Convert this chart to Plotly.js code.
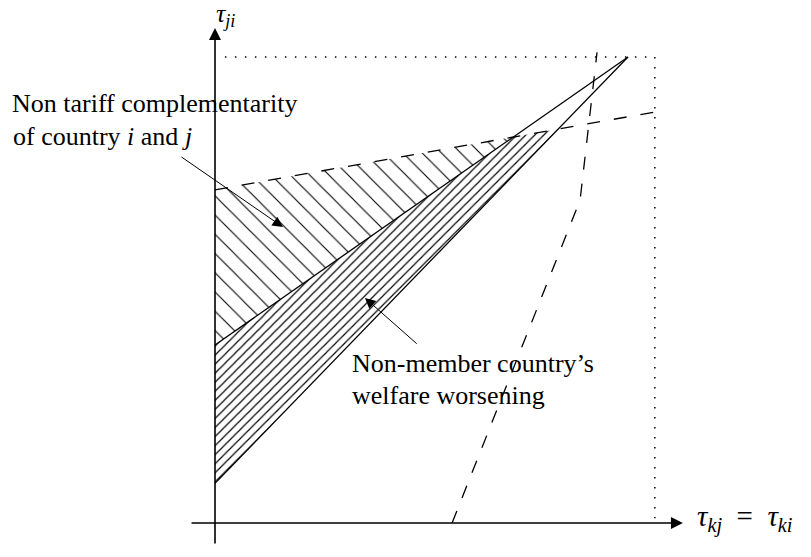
<!DOCTYPE html>
<html>
<head>
<meta charset="utf-8">
<script src="https://cdn.plot.ly/plotly-3.0.1.min.js"></script>
<style>
  html, body { margin: 0; padding: 0; background: #ffffff; }
  #chart { width: 811px; height: 557px; }
</style>
</head>
<body>
<div id="chart"></div>
<script>
// Schematic in the (τkj = τki, τji) plane, arbitrary units.
const lowerSolidX = [0, 10];
const lowerSolidY = [0.85, 10];
const upperSolidX = [0, 10];
const upperSolidY = [3.82, 10];
const dashedLineX = [0, 10.65];
const dashedLineY = [7.15, 8.82];
const dashedCurveX = [5.74, 8.84, 9.25];
const dashedCurveY = [0, 6.93, 10.1];
const dottedBoxX = [0.24, 10.65, 10.65];
const dottedBoxY = [10, 10, 0.1];

const xAxisLabel = '<i>τ</i><sub><i>kj</i></sub>\u2002=\u2002<i>τ</i><sub><i>ki</i></sub>';
const yAxisLabel = '<i>τ</i><sub><i>ji</i></sub>';
const noteComplementarity = ['Non tariff complementarity', 'of country <i>i</i> and <i>j</i>'];
const noteWelfare = ['Non-member country’s', 'welfare worsening'];

// Intersection of two straight lines, each given by two points.
function intersect(ax, ay, bx, by) {
  const ma = (ay[1] - ay[0]) / (ax[1] - ax[0]);
  const mb = (by[1] - by[0]) / (bx[1] - bx[0]);
  const ca = ay[0] - ma * ax[0];
  const cb = by[0] - mb * bx[0];
  const x = (cb - ca) / (ma - mb);
  return [x, ma * x + ca];
}

const A = intersect(upperSolidX, upperSolidY, dashedLineX, dashedLineY);
const B = intersect(lowerSolidX, lowerSolidY, dashedLineX, dashedLineY);

// Region between the dashed line and the upper solid line
const upperRegion = {
  x: [0, A[0], 0, 0],
  y: [dashedLineY[0], A[1], upperSolidY[0], dashedLineY[0]]
};
// Region between the two solid lines, capped by the dashed line
const lowerRegion = {
  x: [0, A[0], B[0], 0, 0],
  y: [upperSolidY[0], A[1], B[1], lowerSolidY[0], upperSolidY[0]]
};

const ink = '#000000';

const traces = [
  {
    x: upperRegion.x, y: upperRegion.y, mode: 'lines', fill: 'toself',
    fillcolor: 'rgba(0,0,0,0)', line: { width: 0, color: 'rgba(0,0,0,0)' },
    fillpattern: { shape: '\\', size: 13.6, solidity: 0.08, fgcolor: ink, bgcolor: 'rgba(0,0,0,0)' },
    hoverinfo: 'skip'
  },
  {
    x: lowerRegion.x, y: lowerRegion.y, mode: 'lines', fill: 'toself',
    fillcolor: 'rgba(0,0,0,0)', line: { width: 0, color: 'rgba(0,0,0,0)' },
    fillpattern: { shape: '/', size: 6.4, solidity: 0.19, fgcolor: ink, bgcolor: 'rgba(0,0,0,0)' },
    hoverinfo: 'skip'
  },
  { x: dottedBoxX, y: dottedBoxY, mode: 'lines', line: { color: ink, width: 1.5, dash: '1.5px,8.5px' } },
  { x: lowerSolidX, y: lowerSolidY, mode: 'lines', line: { color: ink, width: 1.3 } },
  { x: upperSolidX, y: upperSolidY, mode: 'lines', line: { color: ink, width: 1.3 } },
  { x: dashedLineX, y: dashedLineY, mode: 'lines', line: { color: ink, width: 1.3, dash: '13px,14px' } },
  { x: dashedCurveX, y: dashedCurveY, mode: 'lines', line: { color: ink, width: 1.3, dash: '13px,14px' } }
];

// Pixel scale of the drawing: origin sits at (215, 523) in the 811x557 canvas
const W = 811, H = 557;
const ox = 215, oy = 523, sx = 41.3, sy = 46.6;
const px = v => v / W;
const py = v => 1 - v / H;

const serif = '"Liberation Serif", "Times New Roman", serif';

function textLine(text, x, y) {
  return { x: px(x), y: py(y), xref: 'paper', yref: 'paper', xanchor: 'left', yanchor: 'middle',
           align: 'left', text: text, showarrow: false, font: { size: 26 } };
}

const layout = {
  width: W, height: H,
  margin: { l: 0, r: 0, t: 0, b: 0, pad: 0 },
  paper_bgcolor: '#ffffff', plot_bgcolor: '#ffffff',
  showlegend: false,
  xaxis: { range: [-ox / sx, (W - ox) / sx], visible: false, showgrid: false, zeroline: false, fixedrange: true },
  yaxis: { range: [-(H - oy) / sy, oy / sy], visible: false, showgrid: false, zeroline: false, fixedrange: true },
  font: { family: serif, color: ink, size: 24 },
  annotations: [
    // axes with arrow tips
    { x: 11.33, y: 0, ax: -0.605, ay: 0, xref: 'x', yref: 'y', axref: 'x', ayref: 'y',
      text: '', showarrow: true, arrowhead: 2, arrowsize: 1.5, arrowwidth: 1.6, arrowcolor: ink, standoff: 0 },
    { x: 0, y: 10.62, ax: 0, ay: -0.472, xref: 'x', yref: 'y', axref: 'x', ayref: 'y',
      text: '', showarrow: true, arrowhead: 2, arrowsize: 1.5, arrowwidth: 1.6, arrowcolor: ink, standoff: 0 },
    // pointers to the two hatched regions
    { x: 1.646, y: 6.35, ax: -0.847, ay: 7.876, xref: 'x', yref: 'y', axref: 'x', ayref: 'y',
      text: '', showarrow: true, arrowhead: 2, arrowsize: 2.1, arrowwidth: 1, arrowcolor: ink, standoff: 0 },
    { x: 3.63, y: 4.83, ax: 4.92, ay: 3.82, xref: 'x', yref: 'y', axref: 'x', ayref: 'y',
      text: '', showarrow: true, arrowhead: 2, arrowsize: 2.1, arrowwidth: 1, arrowcolor: ink, standoff: 0 },
    // axis labels
    { x: px(225), y: py(15), xref: 'paper', yref: 'paper', xanchor: 'center', yanchor: 'middle',
      text: yAxisLabel, showarrow: false, font: { size: 26 } },
    { x: px(695), y: py(518), xref: 'paper', yref: 'paper', xanchor: 'left', yanchor: 'middle',
      text: xAxisLabel, showarrow: false, font: { size: 29 } },
    // notes
    textLine(noteComplementarity[0], 10, 104),
    textLine(noteComplementarity[1], 11, 136),
    textLine(noteWelfare[0], 350, 363),
    textLine(noteWelfare[1], 350, 395)
  ]
};

Plotly.newPlot('chart', traces, layout, { staticPlot: true, displayModeBar: false });
</script>
</body>
</html>
